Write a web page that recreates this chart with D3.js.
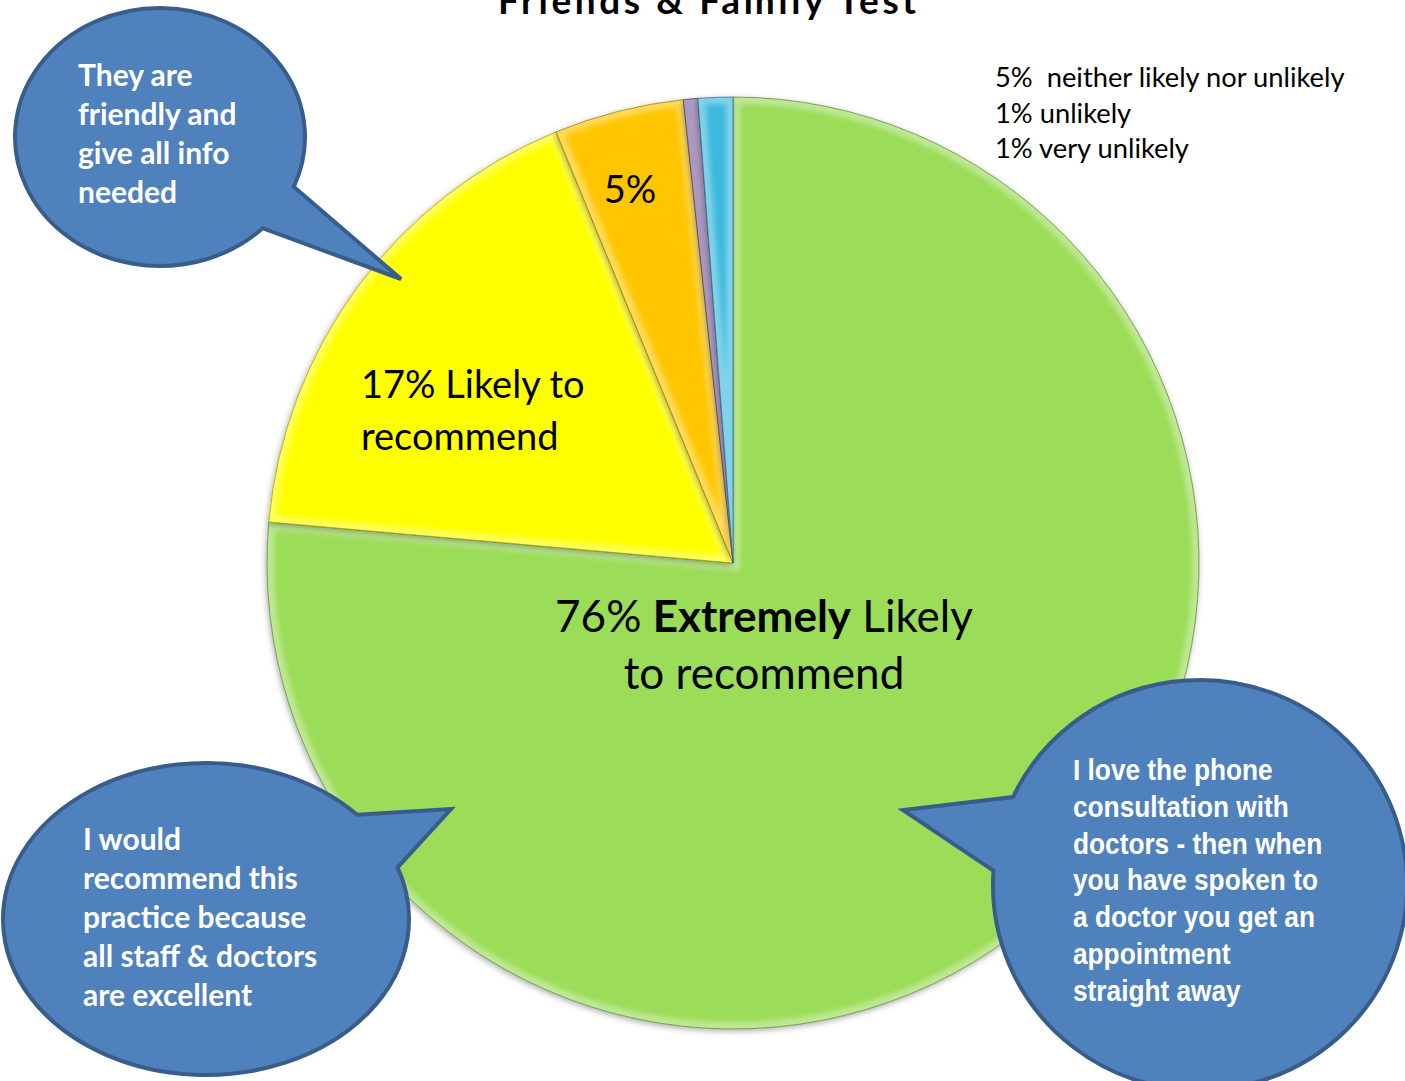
<!DOCTYPE html>
<html>
<head>
<meta charset="utf-8">
<script src="https://cdn.jsdelivr.net/npm/d3@7"></script>
<style>
  body { margin: 0; background: #fff; }
  svg { display: block; }
  .cal { font-family: Lato, "Open Sans", sans-serif; }
  .narrow { font-family: "Liberation Sans", Arial, sans-serif; }
</style>
</head>
<body>
<div id="chart"></div>
<script>
// slice data (clockwise from 12 o'clock)
const categories = ["Extremely likely", "Likely", "Neither likely nor unlikely", "Unlikely", "Very unlikely"];
const values = [76.4, 17.4, 4.5, 0.5, 1.2];
const sliceColors = ["#9bdc58", "#ffff00", "#ffc600", "#8064a2", "#3cb9dd"];

const legendLines = ["5%  neither likely nor unlikely", "1% unlikely", "1% very unlikely"];

const comments = [
    ["They are", "friendly and", "give all info", "needed"],
    ["I would", "recommend this", "practice because", "all staff & doctors", "are excellent"],
    ["I love the phone", "consultation with", "doctors - then when", "you have spoken to", "a doctor you get an", "appointment", "straight away"]
];

const W = 1405, H = 1081;
const cx = 733, cy = 563, radius = 466;

const svg = d3.select("#chart").append("svg")
    .attr("width", W)
    .attr("height", H);

const defs = svg.append("defs");

defs.append("filter").attr("id", "shadow")
    .attr("x", "-10%").attr("y", "-10%").attr("width", "120%").attr("height", "120%")
    .append("feDropShadow")
    .attr("dx", -1).attr("dy", 2).attr("stdDeviation", 3)
    .attr("flood-color", "#000").attr("flood-opacity", 0.35);

defs.append("filter").attr("id", "soft")
    .append("feGaussianBlur").attr("stdDeviation", 2.5);

// pie
let pie = d3.pie().sort(null).value(d => d);
let arcs = pie(values);
let arc = d3.arc().innerRadius(0).outerRadius(radius);

let g = svg.append("g").attr("transform", "translate(" + cx + "," + cy + ")");

arcs.forEach(function(a, i) {
    defs.append("clipPath").attr("id", "clip" + i)
        .append("path").attr("d", arc(a));
});

let slices = g.selectAll(".slice")
    .data(arcs)
    .enter()
    .append("g")
    .attr("class", "slice");

slices.append("path")
    .attr("d", arc)
    .attr("fill", (d, i) => sliceColors[i])
    .attr("filter", "url(#shadow)");

// bevel: light inner edge
slices.append("g")
    .attr("clip-path", (d, i) => "url(#clip" + i + ")")
    .append("path")
    .attr("d", arc)
    .attr("fill", "none")
    .attr("stroke", "#fff")
    .attr("stroke-opacity", 0.35)
    .attr("stroke-width", 14)
    .attr("filter", "url(#soft)");

slices.append("path")
    .attr("d", arc)
    .attr("fill", "none")
    .attr("stroke", (d, i) => d3.color(sliceColors[i]).darker(1.5))
    .attr("stroke-opacity", 0.7)
    .attr("stroke-width", 1);

// title (cut at the top edge, as in the original)
svg.append("text")
    .attr("class", "cal")
    .attr("x", 707).attr("y", 14)
    .attr("text-anchor", "middle")
    .attr("font-size", 37)
    .attr("font-weight", "bold")
    .attr("textLength", 418)
    .text("Friends & Family Test");

// slice labels
svg.append("text").attr("class", "cal")
    .attr("x", 630).attr("y", 203)
    .attr("text-anchor", "middle")
    .attr("font-size", 38)
    .text("5%");

let l17 = svg.append("text").attr("class", "cal")
    .attr("x", 361).attr("y", 398)
    .attr("font-size", 38);
l17.append("tspan").text("17% Likely to");
l17.append("tspan").attr("x", 361).attr("dy", 52).text("recommend");

let l76 = svg.append("text").attr("class", "cal")
    .attr("x", 764).attr("y", 632)
    .attr("text-anchor", "middle")
    .attr("font-size", 44);
l76.append("tspan").text("76% ");
l76.append("tspan").attr("font-weight", "bold").text("Extremely");
l76.append("tspan").text(" Likely");
l76.append("tspan").attr("x", 764).attr("dy", 57).text("to recommend");

// legend text, top right
svg.append("g").selectAll("text")
    .data(legendLines)
    .enter()
    .append("text")
    .attr("class", "cal")
    .attr("x", 995)
    .attr("y", (d, i) => 87 + i * 35.5)
    .attr("font-size", 27.3)
    .style("white-space", "pre")
    .text(d => d);

// speech bubbles
const bubbles = [
    {cx: 160, cy: 137, rx: 145, ry: 129, a1: 22.7, a2: 45, tip: [401, 279], tx: 78, ty: 86, lh: 39, size: 30, sx: 1, cls: "cal"},
    {cx: 206, cy: 919, rx: 203, ry: 156, a1: -41.9, a2: -19.3, tip: [451, 809], tx: 83, ty: 850, lh: 39, size: 30, sx: 1, cls: "cal"},
    {cx: 1200, cy: 885, rx: 207, ry: 205, a1: 184, a2: 205.4, tip: [903, 810], tx: 1073, ty: 780, lh: 36.8, size: 30, sx: 0.875, cls: "narrow"}
];

function pt(b, a) {
    let r = a * Math.PI / 180;
    return [b.cx + b.rx * Math.cos(r), b.cy + b.ry * Math.sin(r)];
}

bubbles.forEach(function(b, i) {
    let p1 = pt(b, b.a1), p2 = pt(b, b.a2);
    let d = "M" + p2 + " A" + b.rx + "," + b.ry + " 0 1 1 " + p1 + " L" + b.tip + " Z";
    svg.append("path")
        .attr("d", d)
        .attr("fill", "#4f81bd")
        .attr("stroke", "#385d8a")
        .attr("stroke-width", 4)
        .attr("stroke-linejoin", "miter");

    // condensed look for the right bubble via horizontal scale
    svg.append("g")
        .attr("transform", "translate(" + b.tx + ",0) scale(" + b.sx + ",1)")
        .selectAll("text")
        .data(comments[i])
        .enter()
        .append("text")
        .attr("class", b.cls)
        .attr("x", 0)
        .attr("y", (t, j) => b.ty + j * b.lh)
        .attr("font-size", b.size)
        .attr("font-weight", "bold")
        .attr("fill", "#fff")
        .text(t => t);
});
</script>
</body>
</html>
